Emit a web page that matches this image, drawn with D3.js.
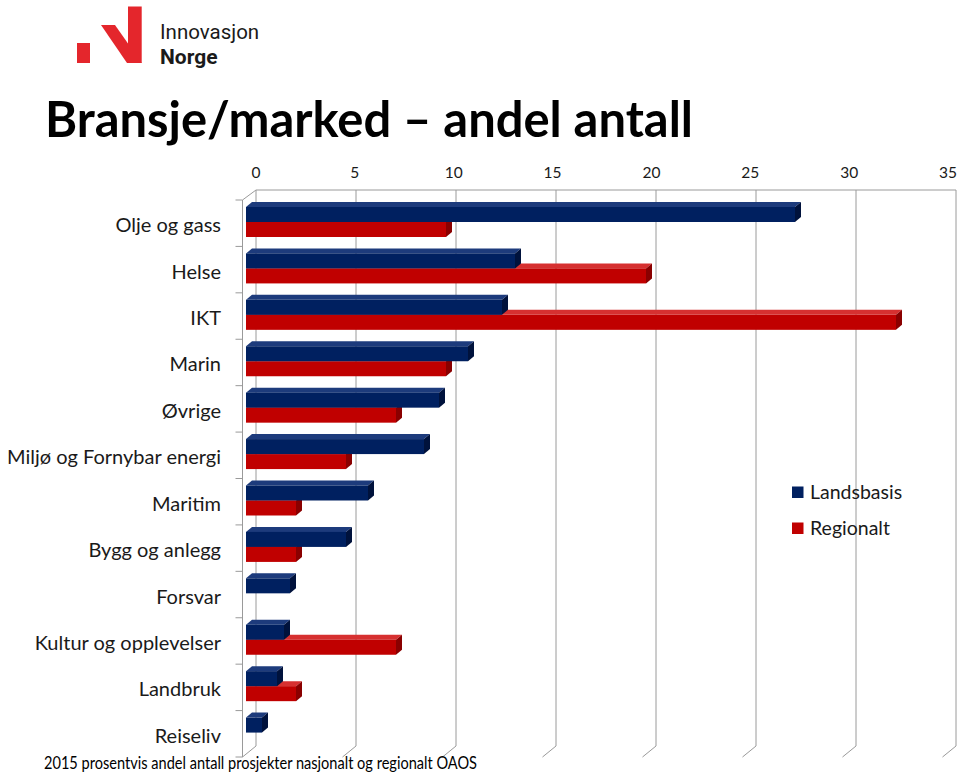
<!DOCTYPE html>
<html>
<head>
<meta charset="utf-8">
<script src="https://cdn.jsdelivr.net/npm/d3@7"></script>
<style>
  html, body { margin: 0; padding: 0; background: #fff; }
  svg { display: block; }
</style>
</head>
<body>
<svg id="chart" width="960" height="774"></svg>
<script>
// ---------- DATA ----------
const categories = ["Olje og gass", "Helse", "IKT", "Marin", "Øvrige", "Miljø og Fornybar energi",
  "Maritim", "Bygg og anlegg", "Forsvar", "Kultur og opplevelser", "Landbruk", "Reiseliv"];
const landsbasis = [27.45, 13.45, 12.8, 11.1, 9.65, 8.9, 6.1, 5.0, 2.2, 1.9, 1.55, 0.8];
const regionalt  = [10.0, 20.0, 32.5, 10.0, 7.5, 5.0, 2.5, 2.5, 0, 7.5, 2.5, 0];
const seriesNames = ["Landsbasis", "Regionalt"];
const tickValues = [0, 5, 10, 15, 20, 25, 30, 35];
const titleText = "Bransje/marked – andel antall";
const footerText = "2015 prosentvis andel  antall prosjekter nasjonalt og regionalt OAOS";

// ---------- SETUP ----------
const svg = d3.select("#chart");
const FONT = "Lato, 'Open Sans', sans-serif";
const colors = {
  Landsbasis: { front: "#002060", top: "#1d3b7c", side: "#00123c" },
  Regionalt:  { front: "#c00000", top: "#d63030", side: "#8a0000" }
};

// scales (oblique 3D projection: back wall, bar plane, floor front)
const xBack  = d3.scaleLinear().domain([0, 35]).range([256, 956]);
const xLabel = d3.scaleLinear().domain([0, 35]).range([256, 948]);
const xBar   = d3.scaleLinear().domain([0, 35]).range([246, 946]);
const xFloor = d3.scaleLinear().domain([0, 35]).range([242.5, 942.5]);
const y = d3.scaleBand().domain(categories).range([200, 757]);
const ySub = d3.scaleBand().domain(seriesNames).range([7, 37]);
const depth = { dx: 6, dy: -5 };
const wallTop = 190, wallBottom = 746, floorFront = 757;

// ---------- LOGO ----------
const logo = svg.append("g").attr("fill", "#e4262c");
logo.append("rect").attr("x", 77).attr("y", 43).attr("width", 13).attr("height", 20);
logo.append("polygon").attr("points", "101,25 115,25 141.7,63 127,63");
logo.append("rect").attr("x", 128).attr("y", 6.5).attr("width", 13.7).attr("height", 56.5);
svg.append("text").attr("x", 160).attr("y", 39).text("Innovasjon")
  .attr("font-family", "Roboto, sans-serif").attr("font-size", 20.5).attr("fill", "#1a1a1a");
svg.append("text").attr("x", 160).attr("y", 64).text("Norge")
  .attr("font-family", "Roboto, sans-serif").attr("font-weight", 700).attr("font-size", 21).attr("fill", "#1a1a1a");

// ---------- TITLE ----------
svg.append("text").attr("x", 45).attr("y", 137).text(titleText)
  .attr("font-family", FONT).attr("font-weight", 700).attr("font-size", 50)
  .attr("textLength", 648).attr("lengthAdjust", "spacingAndGlyphs").attr("fill", "#000");

// ---------- GRID / WALLS ----------
const grid = svg.append("g").attr("stroke", "#9a9a9a").attr("stroke-width", 1).attr("fill", "none");
grid.append("line").attr("x1", xBack(0)).attr("x2", xBack(35)).attr("y1", wallTop).attr("y2", wallTop);
grid.append("line").attr("x1", xFloor(0)).attr("y1", 200).attr("x2", xBack(0)).attr("y2", wallTop);
grid.append("line").attr("x1", xFloor(0)).attr("y1", 200).attr("x2", xFloor(0)).attr("y2", floorFront);
tickValues.forEach(v => {
  grid.append("line").attr("x1", xBack(v)).attr("x2", xBack(v)).attr("y1", wallTop).attr("y2", wallBottom);
  grid.append("line").attr("x1", xBack(v)).attr("y1", wallBottom).attr("x2", xFloor(v)).attr("y2", floorFront);
});
categories.forEach(c => {
  grid.append("line").attr("x1", xFloor(0) - 7).attr("x2", xFloor(0))
    .attr("y1", y(c)).attr("y2", y(c));
});
grid.append("line").attr("x1", xFloor(0) - 7).attr("x2", xFloor(0)).attr("y1", 757).attr("y2", 757);

// tick labels (top axis)
svg.append("g").selectAll("text").data(tickValues).join("text")
  .attr("x", d => xLabel(d)).attr("y", 178).attr("text-anchor", "middle")
  .attr("font-family", FONT).attr("font-size", 15.5).attr("fill", "#1a1a1a")
  .text(d => d);

// category labels
svg.append("g").selectAll("text").data(categories).join("text")
  .attr("x", 221).attr("y", d => y(d) + y.bandwidth() / 2 + 9)
  .attr("text-anchor", "end").attr("font-family", FONT).attr("font-size", 20).attr("fill", "#1a1a1a")
  .text(d => d);

// ---------- BARS ----------
const bars = svg.append("g");
function drawBar(g, value, yTop, h, col) {
  if (!(value > 0)) return;
  const x0 = xBar(0), x1 = xBar(value);
  const { dx, dy } = depth;
  g.append("polygon").attr("fill", col.top)
    .attr("points", [[x0, yTop], [x1, yTop], [x1 + dx, yTop + dy], [x0 + dx, yTop + dy]].map(p => p.join(",")).join(" "));
  g.append("polygon").attr("fill", col.side)
    .attr("points", [[x1, yTop], [x1 + dx, yTop + dy], [x1 + dx, yTop + h + dy], [x1, yTop + h]].map(p => p.join(",")).join(" "));
  g.append("rect").attr("x", x0).attr("y", yTop).attr("width", x1 - x0).attr("height", h).attr("fill", col.front);
}
categories.forEach((c, i) => {
  const g = bars.append("g");
  drawBar(g, regionalt[i], y(c) + ySub("Regionalt"), ySub.bandwidth(), colors.Regionalt);
  drawBar(g, landsbasis[i], y(c) + ySub("Landsbasis"), ySub.bandwidth(), colors.Landsbasis);
});

// ---------- LEGEND ----------
const legend = svg.append("g");
seriesNames.forEach((s, i) => {
  const ly = 492 + i * 36;
  legend.append("rect").attr("x", 792).attr("y", ly - 5.5).attr("width", 11.5).attr("height", 11.5)
    .attr("fill", colors[s].front);
  legend.append("text").attr("x", 810).attr("y", ly + 7).text(s)
    .attr("font-family", FONT).attr("font-size", 19.5).attr("fill", "#1a1a1a");
});

// ---------- FOOTER ----------
svg.append("text").attr("x", 44).attr("y", 769).text(footerText)
  .attr("font-family", FONT).attr("font-size", 16.5).attr("fill", "#000")
  .attr("textLength", 433).attr("lengthAdjust", "spacingAndGlyphs");
</script>
</body>
</html>
